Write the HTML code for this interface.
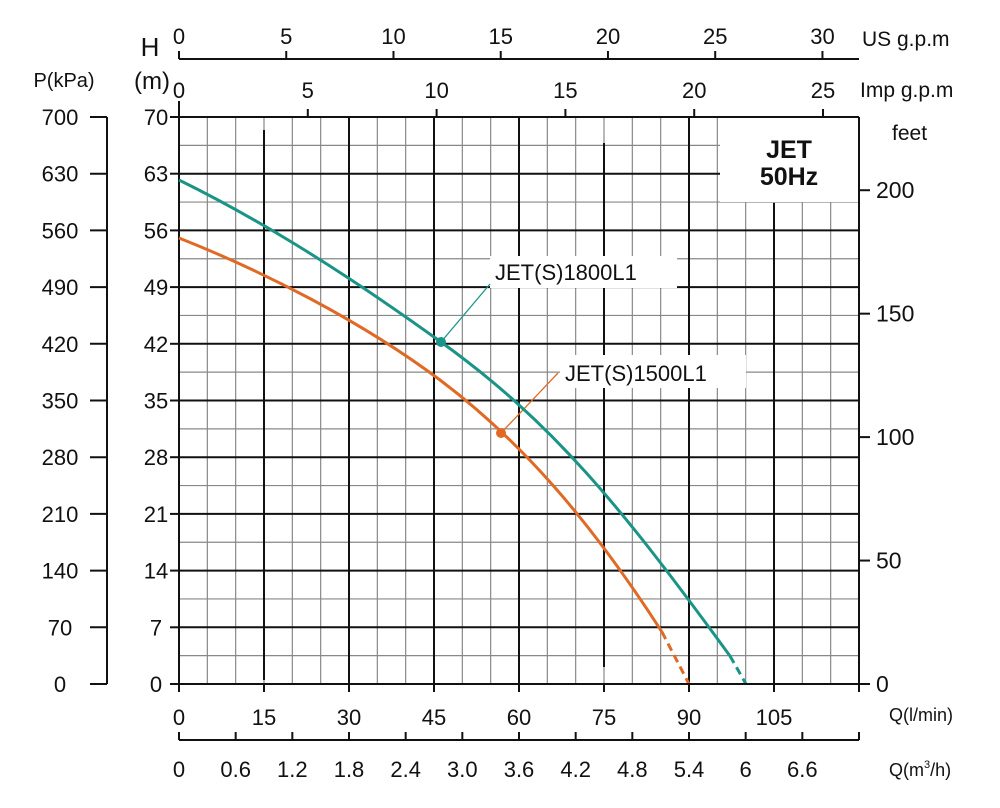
<!DOCTYPE html><html><head><style>body{margin:0;background:#fff}svg{display:block}text{font-family:"Liberation Sans",sans-serif;fill:#111}</style></head><body>
<svg width="1000" height="808" viewBox="0 0 1000 808" xmlns="http://www.w3.org/2000/svg">
<g id="fine" stroke="#888" stroke-width="1.2"></g>
<g id="maj" stroke="#111" stroke-width="2"></g>
<script>
var ns="http://www.w3.org/2000/svg";
function L(g,x1,y1,x2,y2,c,w,d){var e=document.createElementNS(ns,'line');e.setAttribute('x1',x1);e.setAttribute('y1',y1);e.setAttribute('x2',x2);e.setAttribute('y2',y2);if(c)e.setAttribute('stroke',c);if(w)e.setAttribute('stroke-width',w);document.getElementById(g).appendChild(e);}
var X=function(q){return 179+q*680/120},Y=function(h){return 684-h*567/70};
for(var i=1;i<24;i++){L('fine',X(i*5),117,X(i*5),684);}
for(var j=1;j<20;j++){L('fine',179,Y(j*3.5),859,Y(j*3.5));}
for(var j=0;j<=10;j++){L('maj',179,Y(j*7),859,Y(j*7));L('maj',170,Y(j*7),179,Y(j*7));L('maj',90,Y(j*7),107,Y(j*7));}
[0,30,45,60,90,120].forEach(function(q){L('maj',X(q),117,X(q),684);});
L('maj',X(15),130,X(15),680);L('maj',X(75),143,X(75),667);L('maj',X(105),203,X(105),684);
L('maj',107,117,107,684);
</script>
<rect x="720" y="118" width="138" height="84" fill="#fff"/>
<text x="789" y="158" font-size="25" font-weight="bold" text-anchor="middle">JET</text>
<text x="789" y="185" font-size="25" font-weight="bold" text-anchor="middle">50Hz</text>
<rect x="490" y="256" width="187" height="32" fill="#fff"/>
<rect x="560" y="355" width="186" height="33" fill="#fff"/>
<text x="495" y="280" font-size="22">JET(S)1800L1</text>
<text x="565" y="381" font-size="22">JET(S)1500L1</text>
<polyline points="441,342 490,284" fill="none" stroke="#1a9486" stroke-width="1.3"/>
<polyline points="501,433 558,373" fill="none" stroke="#e06a25" stroke-width="1.3"/>
<path d="M179,180 C250,215 330,262 441,342 S620,505 730,656" fill="none" stroke="#1a9486" stroke-width="3"/>
<path d="M730,656 L746,684" fill="none" stroke="#1a9486" stroke-width="3" stroke-dasharray="8,5"/>
<path d="M179,238 C260,270 360,320 440,380 S590,520 662,632" fill="none" stroke="#e06a25" stroke-width="3"/>
<path d="M662,632 L689,684" fill="none" stroke="#e06a25" stroke-width="3" stroke-dasharray="8,5"/>
<circle cx="441" cy="342" r="5" fill="#1a9486"/><circle cx="501" cy="433" r="5" fill="#e06a25"/>
<g id="ax" stroke="#111" stroke-width="2"></g>
<g id="tx" font-size="22"></g>
<script>
function T(x,y,s,a,f){var e=document.createElementNS(ns,'text');e.setAttribute('x',x);e.setAttribute('y',y);e.setAttribute('text-anchor',a||'middle');if(f)e.setAttribute('font-size',f);e.textContent=s;document.getElementById('tx').appendChild(e);}
for(var j=0;j<=10;j++){T(156,Y(j*7)+8,String(j*7),'middle');T(60,Y(j*7)+8,String(j*70),'middle');}
for(var f=0;f<=200;f+=50){var y=Y(f*0.3048);L('ax',859,y,870,y);T(876,y+8,String(f),'start',23);}
L('ax',179,684,859,684);
for(var q=0;q<=120;q+=15){L('ax',X(q),684,X(q),692);if(q<120)T(X(q),725,String(q),'middle');}
L('ax',179,740,859,740);
for(var m=0;m<=7.2;m+=0.6){L('ax',X(m/0.06),740,X(m/0.06),732);}
['0','0.6','1.2','1.8','2.4','3.0','3.6','4.2','4.8','5.4','6','6.6'].forEach(function(s,i){T(X(i*10),777,s,'middle');});
L('ax',179,59,859,59);
for(var u=0;u<=30;u+=5){var x=179+u*3.785*680/120;L('ax',x,59,x,51);T(x,44,String(u),'middle');}
for(var u=0;u<=25;u+=5){var x=179+u*4.546*680/120;L('ax',x,117,x,109);T(x,98,String(u),'middle');}
L('ax',179,101,179,117);
</script>
<text x="150" y="56" font-size="26" text-anchor="middle">H</text>
<text x="152" y="89" font-size="24" text-anchor="middle">(m)</text>
<text x="64" y="87" font-size="20" text-anchor="middle">P(kPa)</text>
<text x="862" y="46" font-size="21">US g.p.m</text>
<text x="860" y="97" font-size="21">Imp g.p.m</text>
<text x="892" y="140" font-size="21">feet</text>
<text x="889" y="721" font-size="18">Q(l/min)</text>
<text x="889" y="776" font-size="18">Q(m<tspan font-size="11" dy="-8">3</tspan><tspan dy="8">/h)</tspan></text>
</svg></body></html>
